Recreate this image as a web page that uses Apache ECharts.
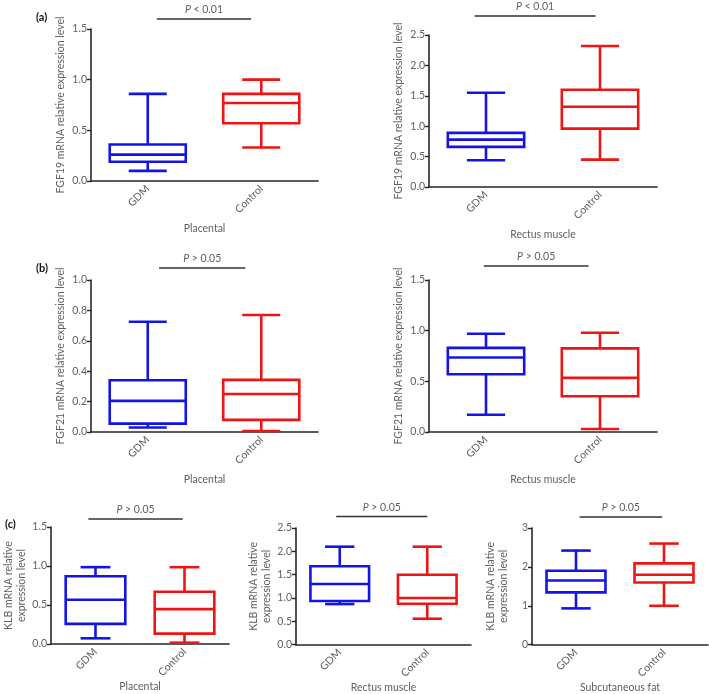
<!DOCTYPE html>
<html><head><meta charset="utf-8">
<script src="https://cdn.jsdelivr.net/npm/echarts@6/dist/echarts.min.js"></script>
<style>html,body{margin:0;padding:0;background:#fff}#c{width:709px;height:694px}</style>
</head><body><div id="c"></div>
<script>
// ---- data ----
const categories = ['GDM', 'Control'];
// each row: [min, Q1, median, Q3, max]
const fgf19Placental = [[0.10, 0.19, 0.26, 0.36, 0.86], [0.33, 0.57, 0.77, 0.86, 1.00]];
const fgf19Rectus    = [[0.44, 0.66, 0.78, 0.89, 1.55], [0.45, 0.96, 1.32, 1.60, 2.32]];
const fgf21Placental = [[0.03, 0.055, 0.205, 0.34, 0.725], [0.007, 0.08, 0.25, 0.343, 0.77]];
const fgf21Rectus    = [[0.17, 0.57, 0.735, 0.83, 0.97], [0.03, 0.353, 0.534, 0.825, 0.98]];
const klbPlacental   = [[0.073, 0.258, 0.567, 0.868, 0.985], [0.017, 0.133, 0.447, 0.67, 0.985]];
const klbRectus      = [[0.871, 0.936, 1.30, 1.68, 2.10], [0.557, 0.879, 1.00, 1.50, 2.10]];
const klbSubcut      = [[0.934, 1.345, 1.65, 1.90, 2.42], [1.00, 1.60, 1.80, 2.09, 2.60]];
const yMaxes    = [1.5, 2.5, 1.0, 1.5, 1.5, 2.5, 3];
const ySteps    = [0.5, 0.5, 0.2, 0.5, 0.5, 0.5, 1];
const yDecimals = [1, 1, 1, 1, 1, 1, 0];
const tissues   = ['Placental', 'Rectus muscle', 'Placental', 'Rectus muscle', 'Placental', 'Rectus muscle', 'Subcutaneous fat'];
const yNames    = ['FGF19 mRNA relative expression level', 'FGF19 mRNA relative expression level',
                   'FGF21 mRNA relative expression level', 'FGF21 mRNA relative expression level',
                   'KLB mRNA relative\nexpression level', 'KLB mRNA relative\nexpression level', 'KLB mRNA relative\nexpression level'];
const pLabels   = ['< 0.01', '< 0.01', '> 0.05', '> 0.05', '> 0.05', '> 0.05', '> 0.05'];
const tags      = [['(a)', 0], ['(b)', 2], ['(c)', 4]];
const datasets  = [fgf19Placental, fgf19Rectus, fgf21Placental, fgf21Rectus, klbPlacental, klbRectus, klbSubcut];

// ---- layout / style ----
const layout = [
  {l: 91,  t: 29,  w: 227, h: 152, bar: [10, 0.29, 0.705], gx: 42, gy: 24},
  {l: 429, t: 35,  w: 228, h: 152, bar: [19, 0.20, 0.73],  gx: 42, gy: 24},
  {l: 91,  t: 280, w: 227, h: 152, bar: [12, 0.30, 0.68],  gx: 42, gy: 24},
  {l: 429, t: 280, w: 228, h: 152, bar: [14, 0.24, 0.70],  gx: 42, gy: 24},
  {l: 51,  t: 527, w: 178, h: 117, bar: [8, 0.21, 0.74],   gx: 37, gy: 22},
  {l: 296, t: 528, w: 175, h: 117, bar: [11.5, 0.23, 0.75], gx: 37, gy: 22},
  {l: 532, t: 528, w: 176, h: 117, bar: [11, 0.27, 0.74],  gx: 37, gy: 22}
];
const tagPos = [[36, 17.5], [36, 268], [5, 524]];
const colors = ['#1414e6', '#ee1515'];
const FONT = 'Lato';
const TXT = '#606060';
const AX = '#262626';

const grids = [], xAxes = [], yAxes = [], series = [], graphics = [];
datasets.forEach((ds, i) => {
  const L = layout[i];
  grids.push({left: L.l, top: L.t, width: L.w, height: L.h});
  xAxes.push({
    type: 'category', gridIndex: i, data: categories,
    name: tissues[i], nameLocation: 'middle', nameGap: L.gx,
    nameTextStyle: {fontFamily: FONT, fontSize: 10.5, color: TXT},
    axisLine: {lineStyle: {color: AX, width: 1.6}},
    axisTick: {alignWithLabel: true, length: 4, lineStyle: {color: AX, width: 1.4}},
    axisLabel: {rotate: 45, fontFamily: FONT, fontSize: 10.5, color: TXT, margin: 6}
  });
  yAxes.push({
    type: 'value', gridIndex: i, min: 0, max: yMaxes[i], interval: ySteps[i],
    name: yNames[i], nameLocation: 'middle', nameGap: L.gy,
    nameTextStyle: {fontFamily: FONT, fontSize: 10.5, color: TXT, lineHeight: 13},
    axisLine: {show: true, lineStyle: {color: AX, width: 1.6}},
    axisTick: {show: true, length: 4, lineStyle: {color: AX, width: 1.4}},
    splitLine: {show: false},
    axisLabel: {fontFamily: FONT, fontSize: 10.5, color: TXT, margin: 4,
      formatter: v => v.toFixed(yDecimals[i])}
  });
  series.push({
    type: 'custom', xAxisIndex: i, yAxisIndex: i,
    data: ds.map((r, k) => [k].concat(r)),
    encode: {x: 0, y: [1, 2, 3, 4, 5]},
    renderItem: (params, api) => {
      const k = api.value(0);
      const ys = [1, 2, 3, 4, 5].map(j => api.coord([k, api.value(j)])[1]);
      const cx = api.coord([k, 0])[0];
      const bw = api.size([1, 0])[0] * 0.67;
      const cw = bw / 2;
      const st = {stroke: colors[k], lineWidth: 2.6, fill: null};
      const line = (x1, y1, x2, y2) => ({type: 'line', shape: {x1, y1, x2, y2}, style: st});
      return {type: 'group', children: [
        {type: 'rect', shape: {x: cx - bw / 2, y: ys[3], width: bw, height: ys[1] - ys[3]}, style: st},
        line(cx - bw / 2, ys[2], cx + bw / 2, ys[2]),
        line(cx, ys[3], cx, ys[4]),
        line(cx, ys[1], cx, ys[0]),
        line(cx - cw / 2, ys[4], cx + cw / 2, ys[4]),
        line(cx - cw / 2, ys[0], cx + cw / 2, ys[0])
      ]};
    }
  });
  const by = L.t - L.bar[0];
  const x0 = L.l + L.bar[1] * L.w, x1 = L.l + L.bar[2] * L.w;
  graphics.push({type: 'line', shape: {x1: x0, y1: by, x2: x1, y2: by}, style: {stroke: '#333', lineWidth: 1.6}});
  graphics.push({type: 'text', x: (x0 + x1) / 2, y: by - 9, style: {
    text: '{i|P} ' + pLabels[i], align: 'center', verticalAlign: 'middle',
    fontFamily: FONT, fontSize: 10.5, fill: TXT,
    rich: {i: {fontStyle: 'italic', fontFamily: FONT, fontSize: 10.5, fill: TXT}}
  }});
});
tags.forEach((t, j) => {
  graphics.push({type: 'text', x: tagPos[j][0], y: tagPos[j][1], style: {
    text: t[0], verticalAlign: 'middle', fontFamily: FONT, fontSize: 11, fontWeight: 'bold', fill: '#111'}});
});

const chart = echarts.init(document.getElementById('c'), null, {renderer: 'canvas'});
chart.setOption({
  animation: false, backgroundColor: '#fff',
  grid: grids, xAxis: xAxes, yAxis: yAxes, series: series, graphic: graphics
});
</script></body></html>
